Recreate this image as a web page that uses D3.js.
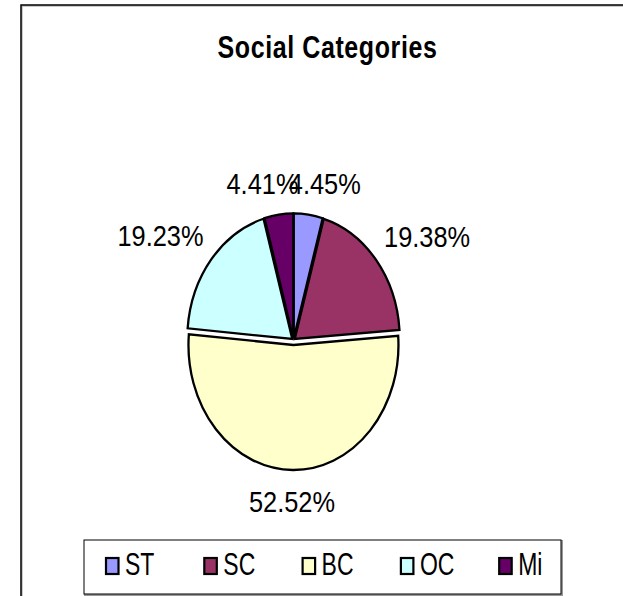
<!DOCTYPE html>
<html>
<head>
<meta charset="utf-8">
<script src="https://cdn.jsdelivr.net/npm/d3@7/dist/d3.min.js"></script>
<style>
  html, body { margin: 0; padding: 0; background: #fff; }
  svg { display: block; }
  text { font-family: "Liberation Sans", Arial, sans-serif; fill: #000; }
</style>
</head>
<body>
<svg id="chart" width="623" height="596"></svg>
<script>
// ---- data ----
const title = "Social Categories";
const categories = ["ST", "SC", "BC", "OC", "Mi"];
const values = [4.45, 19.38, 52.52, 19.23, 4.41];
const colors = ["#9999FF", "#993366", "#FFFFCC", "#CCFFFF", "#660066"];

// ---- layout ----
const svg = d3.select("#chart");
const cx = 293.5, cy = 340, rx = 105, ry = 125;
const explodeBase = 1.6, explodeBig = 5;

// outer chart border (with soft shadow)
svg.append("rect").attr("x", 22).attr("y", 6).attr("width", 700).attr("height", 700)
  .attr("fill", "none").attr("stroke", "#bbb").attr("stroke-width", 1.5);
svg.append("rect").attr("x", 21).attr("y", 5).attr("width", 700).attr("height", 700)
  .attr("fill", "none").attr("stroke", "#000").attr("stroke-width", 1.5);

// title
svg.append("text")
  .attr("transform", `translate(327.5,58) scale(1,1.25)`)
  .attr("text-anchor", "middle")
  .style("font-weight", "bold")
  .style("font-size", "25px")
  .style("letter-spacing", "0.6px")
  .text(title);

// pie
const pie = d3.pie().sort(null).value(d => d)(values);
const arc = d3.arc().innerRadius(0).outerRadius(rx);
const sy = ry / rx;

const slices = svg.append("g");
pie.forEach((p, i) => {
  const mid = (p.startAngle + p.endAngle) / 2;
  const off = values[i] === d3.max(values) ? explodeBig : explodeBase;
  const ox = off * Math.sin(mid), oy = -off * Math.cos(mid);
  slices.append("g")
    .attr("transform", `translate(${cx + ox},${cy + oy}) scale(1,${sy})`)
    .append("path")
    .attr("d", arc(p))
    .attr("fill", colors[i])
    .attr("stroke", "#000")
    .attr("stroke-width", 2.3)
    .attr("stroke-linejoin", "miter")
    .attr("vector-effect", "non-scaling-stroke");
});

// data labels (outside end)
const fmt = d3.format(".2f");
const labelG = svg.append("g");
const gx = 10, gy = 21;
pie.forEach((p, i) => {
  const mid = (p.startAngle + p.endAngle) / 2;
  const s = Math.sin(mid), c = Math.cos(mid);
  const off = values[i] === d3.max(values) ? explodeBig : explodeBase;
  const ex = cx + off * s + rx * s;
  const ey = cy - off * c - ry * c;
  const t = labelG.append("text")
    .attr("text-anchor", "middle")
    .attr("dominant-baseline", "central")
    .style("font-size", "25.4px")
    .text(fmt(values[i]) + "%");
  const w = t.node().getComputedTextLength();
  const hw = w / 2, hh = 10.5;
  const kx = Math.sign(s) * Math.min(1, Math.abs(s) * 3);
  const ky = Math.sign(c) * Math.min(1, Math.abs(c) * 4);
  const lx = ex + gx * s + hw * kx;
  const ly = ey - gy * c - hh * ky;
  t.attr("transform", `translate(${lx},${ly}) scale(1,1.17)`);
});

// legend
const lg = svg.append("g");
lg.append("rect").attr("x", 85).attr("y", 541).attr("width", 477).attr("height", 54)
  .attr("fill", "none").attr("stroke", "#999").attr("stroke-width", 2);
lg.append("rect").attr("x", 84).attr("y", 540).attr("width", 477).attr("height", 54)
  .attr("fill", "#fff").attr("stroke", "#000").attr("stroke-width", 1);

const lx0 = 105, lstep = 98.3;
categories.forEach((cat, i) => {
  const x = lx0 + i * lstep;
  lg.append("rect").attr("x", x + 1).attr("y", 558).attr("width", 12.5).attr("height", 16)
    .attr("fill", colors[i]).attr("stroke", "#000").attr("stroke-width", 2.2);
  lg.append("text")
    .attr("transform", `translate(${x + 20},${564}) scale(1,1.35)`)
    .attr("dominant-baseline", "central")
    .style("font-size", "23px")
    .text(cat);
});
</script>
</body>
</html>
